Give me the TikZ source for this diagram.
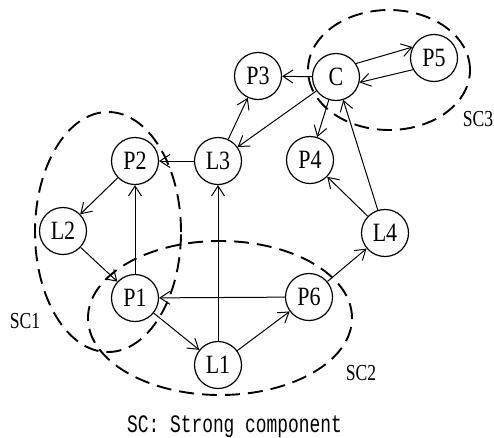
\documentclass[tikz,border=0pt]{standalone}
\usepackage{graphicx}
\usepackage{fontspec}
\setmainfont{Liberation Serif}
\newfontfamily\capfont{Liberation Mono}
\usetikzlibrary{arrows.meta}
\newcommand\vt[1]{\scalebox{1}[1.2]{#1}}
\newcommand\vtl[1]{\scalebox{1}[1.3]{#1}}
\begin{document}
\begin{tikzpicture}[x=1pt,y=-1pt,
  vtx/.style={circle,draw,line width=1.2pt,fill=white,minimum size=47pt,inner sep=0pt,font=\fontsize{22}{24}\selectfont},
  edge/.style={line width=1pt,-{Straight Barb[length=10pt,width=13pt]}},
  sc/.style={line width=1.9pt,dash pattern=on 15pt off 8pt},
  sclabel/.style={font=\fontsize{17.6}{20}\selectfont,inner sep=0pt}]
\useasboundingbox (0,0) rectangle (494,437);
% strong components
\draw[sc] (108,232) ellipse [x radius=73pt, y radius=120pt];
\draw[sc] (220,318) ellipse [x radius=132pt, y radius=77pt];
\draw[sc] (389,70) ellipse [x radius=81pt, y radius=60pt];
% vertices
\node[vtx] (P3) at (258,76) {\vt{P3}};
\node[vtx] (C) at (336,77) {\vt{C}};
\node[vtx] (P5) at (434,58) {\vt{P5}};
\node[vtx] (P4) at (310,160) {\vt{P4}};
\node[vtx] (L3) at (218,161) {\vt{L3}};
\node[vtx] (P2) at (135,161) {\vt{P2}};
\node[vtx] (L2) at (63,231) {\vt{L2}};
\node[vtx] (P1) at (135,298) {\vt{P1}};
\node[vtx] (L1) at (218,365) {\vt{L1}};
\node[vtx] (P6) at (309,297) {\vt{P6}};
\node[vtx] (L4) at (385,233) {\vt{L4}};
% edges
\draw[edge] (C) -- (P3);
\draw[edge] (C.34) -- (P5.153);
\draw[edge] (P5.209) -- (C.-13);
\draw[edge] (C) -- (L3);
\draw[edge] (L3) -- (P3);
\draw[edge] (C) -- (P4);
\draw[edge] (L4) -- (C);
\draw[edge] (L4) -- (P4);
\draw[edge] (L3) -- (P2);
\draw[edge] (P2) -- (L2);
\draw[edge] (L2) -- (P1);
\draw[edge] (P1) -- (P2);
\draw[edge] (L1) -- (L3);
\draw[edge] (P6) -- (P1);
\draw[edge] (P1) -- (L1);
\draw[edge] (L1) -- (P6);
\draw[edge] (P6) -- (L4);
% labels
\node[sclabel] (sc1) at (25,321) {\vtl{SC1}};
\node[sclabel] (sc2) at (361,373) {\vtl{SC2}};
\node[sclabel] (sc3) at (478,119) {\vtl{SC3}};
\node[anchor=base,inner sep=0pt,font=\capfont\fontsize{17.9}{20}\selectfont] (cap) at (234.5,432) {\scalebox{1}[1.4]{SC: Strong component}};
\end{tikzpicture}
\end{document}
